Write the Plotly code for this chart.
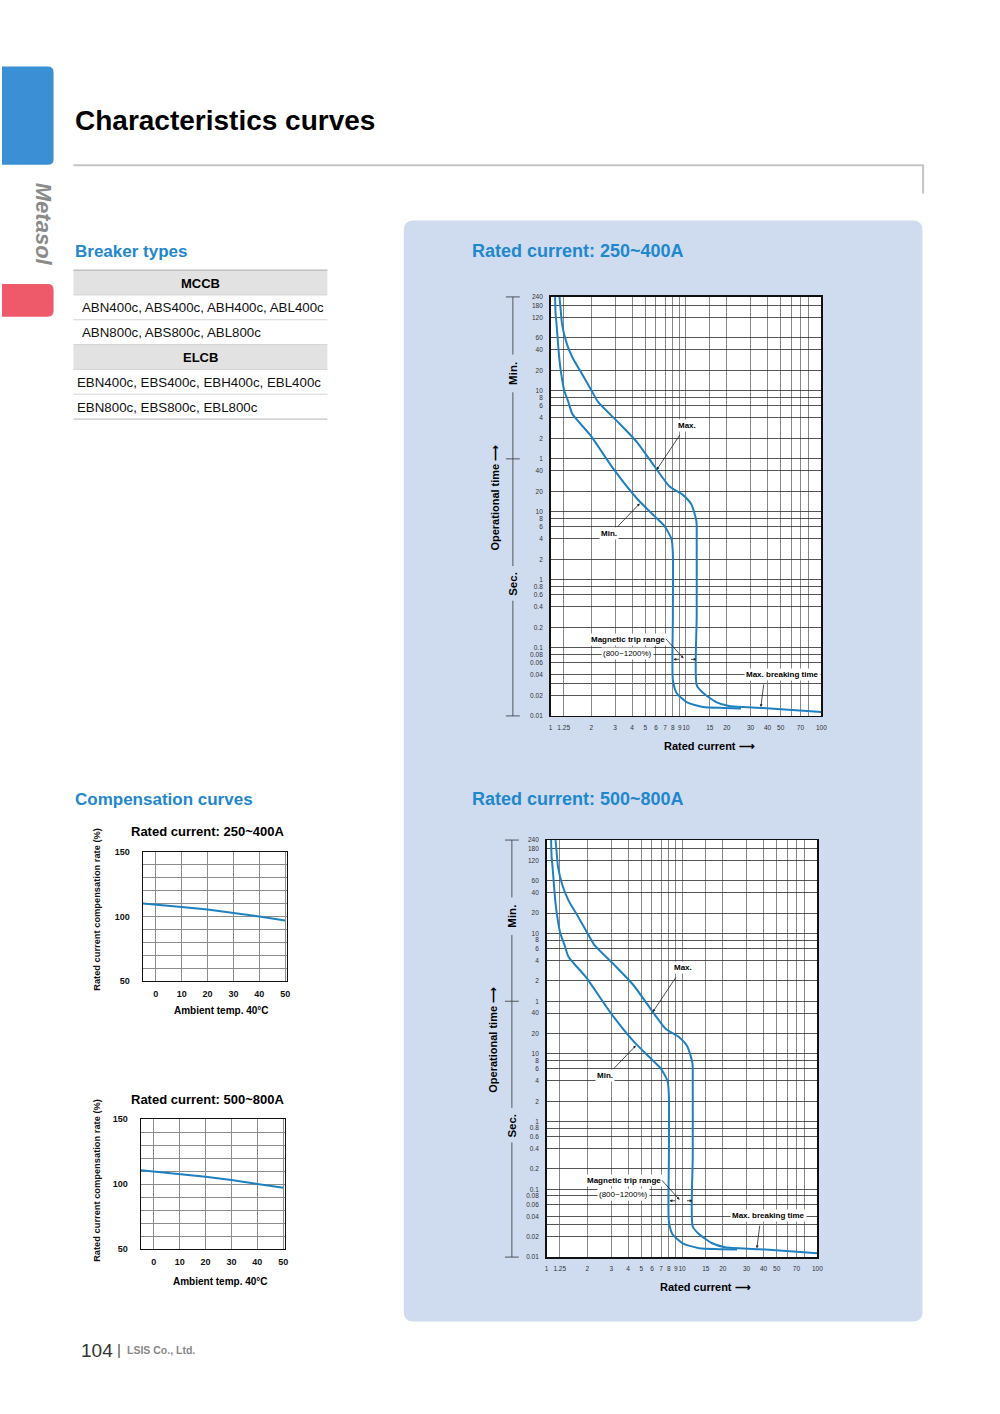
import math
import plotly.graph_objects as go

W, H = 1000, 1414
FONT = "Liberation Sans, Arial, Helvetica, sans-serif"
NARROW = "Liberation Sans Narrow, Liberation Sans, Arial, sans-serif"
BLUE_TXT = "#1f87cc"
CURVE = "#1f80c0"

# ---------------- data ----------------
# time-current characteristic (current in multiples of rating, time in seconds)
max_current = [1.164, 1.184, 1.214, 1.31, 1.45, 1.716, 2.0, 2.25, 3.15, 4.34, 5.88, 7.57, 9.43,
               10.97, 11.94, 12.0, 12.0, 12.0, 13.4, 16.7, 20.8, 37.0, 100.0]
max_time = [14400, 9930, 5800, 3070, 1850, 1047, 611, 408, 208, 106, 46, 23.5, 17.9,
            12.8, 7.24, 4.68, 0.3, 0.0283, 0.0217, 0.016, 0.014, 0.0131, 0.0114]
min_current = [1.08, 1.088, 1.106, 1.158, 1.194, 1.26, 1.355, 1.45, 1.96, 2.94, 4.34, 5.88, 6.96, 7.83,
               8.0, 8.0, 8.0, 8.52, 10.1, 13.4, 18.8, 25.5]
min_time = [14400, 8400, 5800, 1850, 1120, 611, 408, 273, 135, 41.6, 15.7, 8.57, 6.12, 3.95,
            2.39, 0.3, 0.0335, 0.0217, 0.016, 0.0135, 0.0131, 0.0129]

x_tick_vals = [1, 1.25, 2, 3, 4, 5, 6, 7, 8, 9, 10, 15, 20, 30, 40, 50, 70, 100]
x_tick_text = ["1", "1.25", "2", "3", "4", "5", "6", "7", "8", "9", "10", "15", "20", "30", "40", "50", "70", "100"]
x_minor_vals = [60, 80]
y_tick_vals = [0.01, 0.02, 0.04, 0.06, 0.08, 0.1, 0.2, 0.4, 0.6, 0.8, 1, 2, 4, 6, 8, 10, 20, 40,
               60, 120, 240, 360, 480, 600, 1200, 2400, 3600, 7200, 10800, 14400]
y_tick_text = ["0.01", "0.02", "0.04", "0.06", "0.08", "0.1", "0.2", "0.4", "0.6", "0.8", "1", "2",
               "4", "6", "8", "10", "20", "40", "1", "2", "4", "6", "8", "10", "20", "40", "60",
               "120", "180", "240"]
y_minor_vals = [0.03]

# compensation curves
temps = [-5, 0, 10, 20, 30, 40, 50]
comp_250_400 = [110.0, 109.3, 107.4, 105.4, 102.9, 100.0, 96.9]
comp_500_800 = [110.7, 109.7, 107.7, 105.6, 103.1, 100.3, 97.2]
comp_x_ticks = [0, 10, 20, 30, 40, 50]
comp_y_ticks = [50, 100, 150]
comp_y_minor = [60, 70, 80, 90, 110, 120, 130, 140]

table_rows = [("MCCB", True), ("ABN400c, ABS400c, ABH400c, ABL400c", False),
              ("ABN800c, ABS800c, ABL800c", False), ("ELCB", True),
              ("EBN400c, EBS400c, EBH400c, EBL400c", False), ("EBN800c, EBS800c, EBL800c", False)]

Y_LOG_MIN, Y_LOG_MAX = -2, math.log10(14400)


def px(x):
    return x / W


def py(y):
    return 1 - y / H


fig = go.Figure()
shapes = []
ann = []


def txt(x, y, s, size, color="#000", bold=False, italic=False, xanchor="center", yanchor="middle",
        angle=0, xref="paper", yref="paper", bg=None, family=FONT, pad=1):
    if xref == "paper":
        x = px(x)
    if yref == "paper":
        y = py(y)
    d = dict(x=x, y=y, xref=xref, yref=yref, text=s, showarrow=False, xanchor=xanchor,
             yanchor=yanchor, textangle=angle,
             font=dict(family=family, size=size, color=color,
                       weight="bold" if bold else "normal", style="italic" if italic else "normal"))
    if bg:
        d.update(bgcolor=bg, borderpad=pad)
    ann.append(d)


def rrect_path(x0, y0, x1, y1, r, corners=(1, 1, 1, 1)):
    rx, ry = r / W, r / H
    X0, X1 = px(x0), px(x1)
    Y0, Y1 = py(y0), py(y1)
    tl, tr, br, bl = corners
    p = f"M {X0 + rx * tl},{Y0} L {X1 - rx * tr},{Y0} "
    p += f"Q {X1},{Y0} {X1},{Y0 - ry * tr} " if tr else ""
    p += f"L {X1},{Y1 + ry * br} "
    p += f"Q {X1},{Y1} {X1 - rx * br},{Y1} " if br else ""
    p += f"L {X0 + rx * bl},{Y1} "
    p += f"Q {X0},{Y1} {X0},{Y1 + ry * bl} " if bl else ""
    p += f"L {X0},{Y0 - ry * tl} "
    p += f"Q {X0},{Y0} {X0 + rx * tl},{Y0} " if tl else ""
    return p + "Z"


# ---------------- page decoration ----------------
shapes.append(dict(type="path", path=rrect_path(0, 62, 52, 161, 6, (0, 1, 1, 0)), xref="paper", yref="paper",
                   fillcolor="#3a8fd5", line=dict(width=0), layer="below"))
shapes.append(dict(type="path", path=rrect_path(0, 281, 52, 314, 6, (0, 1, 1, 0)), xref="paper", yref="paper",
                   fillcolor="#ee5a6a", line=dict(width=0), layer="below"))
txt(42, 221, "Metasol", 22, color="#8a8a8a", bold=True, italic=True, angle=90)
txt(72, 116, "Characteristics curves", 28, bold=True, xanchor="left")
shapes.append(dict(type="line", xref="paper", yref="paper", x0=px(72), x1=px(929), y0=py(161.5), y1=py(161.5),
                   line=dict(color="#c4c4c4", width=2)))
shapes.append(dict(type="line", xref="paper", yref="paper", x0=px(928.5), x1=px(928.5), y0=py(161), y1=py(190),
                   line=dict(color="#c4c4c4", width=2)))
shapes.append(dict(type="path", path=rrect_path(405, 217, 928, 1326, 10), xref="paper", yref="paper",
                   fillcolor="#cfdcf0", line=dict(width=0), layer="below"))

# ---------------- breaker types table ----------------
txt(72, 248, "Breaker types", 17, color=BLUE_TXT, bold=True, xanchor="left")
top, rh = 267, 25
for i, (label, header) in enumerate(table_rows):
    y0 = top + i * rh
    if header:
        shapes.append(dict(type="rect", xref="paper", yref="paper", x0=px(72), x1=px(328), y0=py(y0), y1=py(y0 + rh),
                           fillcolor="#e2e2e2", line=dict(width=0), layer="below"))
        txt(200, y0 + rh / 2 + 0.5, label, 13, bold=True)
    else:
        xs = 79 if i < 3 else 74
        txt(xs, y0 + rh / 2 + 0.5, label, 13.3, color="#111", xanchor="left")
    shapes.append(dict(type="line", xref="paper", yref="paper", x0=px(72), x1=px(328), y0=py(y0), y1=py(y0),
                       line=dict(color="#b8b8b8" if i == 0 else "#d4d4d4", width=1.3 if i == 0 else 1)))
shapes.append(dict(type="line", xref="paper", yref="paper", x0=px(72), x1=px(328), y0=py(top + 6 * rh),
                   y1=py(top + 6 * rh), line=dict(color="#c4c4c4", width=1.3)))

# ---------------- main characteristic charts ----------------
main_charts = [
    dict(ax="", dom_x=(553, 826), dom_y=(294, 716), title="Rated current: 250~400A", title_y=248,
         dim_x=515, brk_x=1.714),
    dict(ax="2", dom_x=(549, 822), dom_y=(841, 1261), title="Rated current: 500~800A", title_y=800,
         dim_x=514, brk_x=1.641),
]

for c in main_charts:
    a = c["ax"]
    xr, yr = "x" + a, "y" + a
    for cx, cy in ((min_current, min_time), (max_current, max_time)):
        fig.add_trace(go.Scatter(x=cx, y=cy, mode="lines", xaxis=xr, yaxis=yr,
                                 line=dict(color=CURVE, width=2, shape="spline", smoothing=0.6),
                                 showlegend=False, hoverinfo="skip"))
    x0, x1 = c["dom_x"]
    y0, y1 = c["dom_y"]
    fig.layout["xaxis" + a] = dict(
        domain=[px(x0), px(x1)], anchor=yr, type="log", range=[0, 2],
        tickmode="array", tickvals=x_tick_vals, ticktext=x_tick_text, ticks="", tickangle=0,
        tickfont=dict(family=FONT, size=6.5, color="#333"), ticklabelstandoff=5,
        showgrid=True, gridcolor="#6a6a6a", gridwidth=0.8,
        minor=dict(tickmode="array", tickvals=x_minor_vals, showgrid=True, gridcolor="#6a6a6a", gridwidth=0.8),
        showline=True, linecolor="#111", linewidth=1.5, mirror=True, zeroline=False, fixedrange=True)
    fig.layout["yaxis" + a] = dict(
        domain=[py(y1), py(y0)], anchor=xr, type="log", range=[Y_LOG_MIN, Y_LOG_MAX],
        tickmode="array", tickvals=y_tick_vals, ticktext=y_tick_text, ticks="", tickangle=0,
        tickfont=dict(family=FONT, size=6.5, color="#333"), ticklabelstandoff=5,
        showgrid=True, gridcolor="#2a2a2a", gridwidth=0.8,
        minor=dict(tickmode="array", tickvals=y_minor_vals, showgrid=True, gridcolor="#2a2a2a", gridwidth=0.8),
        showline=True, linecolor="#111", linewidth=1.5, mirror=True, zeroline=False, fixedrange=True)
    shapes.append(dict(type="rect", xref="paper", yref="paper", x0=px(x0), x1=px(x1), y0=py(y1), y1=py(y0),
                       fillcolor="white", line=dict(width=0), layer="below"))
    txt(472, c["title_y"], c["title"], 18, color=BLUE_TXT, bold=True, xanchor="left")

    def ypix(L, y0=y0, y1=y1):
        return y1 - (L - Y_LOG_MIN) * (y1 - y0) / (Y_LOG_MAX - Y_LOG_MIN)

    dx = c["dim_x"]
    ytop, ymin, ybot = Y_LOG_MAX, math.log10(60), Y_LOG_MIN
    for (a0, a1) in [(ytop, 3.311), (2.757, ymin), (ymin, 0.203), (-0.307, ybot)]:
        shapes.append(dict(type="line", xref="paper", yref="paper", x0=px(dx), x1=px(dx),
                           y0=py(ypix(a0)), y1=py(ypix(a1)), line=dict(color="#333", width=0.8)))
    for yy in (ytop, ymin, ybot):
        shapes.append(dict(type="line", xref="paper", yref="paper", x0=px(dx - 7), x1=px(dx + 7),
                           y0=py(ypix(yy)), y1=py(ypix(yy)), line=dict(color="#333", width=0.8)))
    txt(dx, 3.04, "Min.", 11.5, bold=True, angle=-90, yref=yr)
    txt(dx, -0.06, "Sec.", 11.5, bold=True, angle=-90, yref=yr)
    txt(dx - 19, 1.21, "Operational time ⟶", 11, bold=True, angle=-90, yref=yr)
    txt(1.172, -0.071, "Rated current ⟶", 11, bold=True, xref=xr, yref=yr + " domain")
    txt(1.004, 2.276, "Max.", 8, bold=True, xref=xr, yref=yr, bg="white", family=NARROW)
    txt(0.432, 0.685, "Min.", 8, bold=True, xref=xr, yref=yr, bg="white", family=NARROW)
    txt(0.571, -0.876, "Magnetic trip range", 8, bold=True, xref=xr, yref=yr, bg="white", family=NARROW)
    txt(0.571, -1.081, "(800~1200%)", 8, xref=xr, yref=yr, bg="white", family=NARROW)
    txt(c["brk_x"], -1.387, "Max. breaking time", 8, bold=True, xref=xr, yref=yr, bg="white", family=NARROW)
    arrows = [(0.784, 1.619, 24, -36), (0.659, 1.123, -24, 25), (0.982, -1.154, -19, -21),
              (0.908, -1.168, 7, 0), (1.077, -1.168, -7, 0), (1.553, -1.869, 3, -24)]
    for (ax_, ay_, ox, oy) in arrows:
        ann.append(dict(x=ax_, y=ay_, xref=xr, yref=yr, text="", showarrow=True, ax=ox, ay=oy,
                        arrowhead=2, arrowsize=0.7, arrowwidth=0.8, arrowcolor="#222", standoff=0))

# ---------------- compensation charts ----------------
txt(72, 800, "Compensation curves", 17, color=BLUE_TXT, bold=True, xanchor="left")
comp_charts = [
    dict(ax="3", dom_x=(142, 287), dom_y=(853, 983), title="Rated current: 250~400A", title_y=832,
         data=comp_250_400, ytitle_y=911, xlab=(221, 1013)),
    dict(ax="4", dom_x=(140, 285), dom_y=(1122, 1253), title="Rated current: 500~800A", title_y=1102,
         data=comp_500_800, ytitle_y=1184, xlab=(220, 1286)),
]
for c in comp_charts:
    a = c["ax"]
    xr, yr = "x" + a, "y" + a
    fig.add_trace(go.Scatter(x=temps, y=c["data"], mode="lines", xaxis=xr, yaxis=yr,
                             line=dict(color=CURVE, width=2), showlegend=False, hoverinfo="skip"))
    x0, x1 = c["dom_x"]
    y0, y1 = c["dom_y"]
    fig.layout["xaxis" + a] = dict(
        domain=[px(x0), px(x1)], anchor=yr, range=[-5, 50.6], tickmode="array", tickvals=comp_x_ticks,
        ticks="", tickangle=0, tickfont=dict(family=FONT, size=9, color="#111", weight="bold"),
        ticklabelstandoff=4, showgrid=True, gridcolor="#8c8c8c", gridwidth=1,
        showline=True, linecolor="#111", linewidth=1.3, mirror=True, zeroline=False, fixedrange=True)
    fig.layout["yaxis" + a] = dict(
        domain=[py(y1), py(y0)], anchor=xr, range=[50, 150], tickmode="array", tickvals=comp_y_ticks,
        ticks="", tickfont=dict(family=FONT, size=9, color="#111", weight="bold"), ticklabelstandoff=10,
        showgrid=True, gridcolor="#8c8c8c", gridwidth=1,
        minor=dict(tickmode="array", tickvals=comp_y_minor, showgrid=True, gridcolor="#8c8c8c", gridwidth=1),
        showline=True, linecolor="#111", linewidth=1.3, mirror=True, zeroline=False, fixedrange=True)
    txt(207, c["title_y"], c["title"], 13, bold=True)
    txt(95, c["ytitle_y"], "Rated current compensation rate (%)", 9.3, color="#111", angle=-90, family=NARROW,
        bold=True)
    txt(c["xlab"][0], c["xlab"][1], "Ambient temp. 40°C", 10, bold=True, family=NARROW)

# ---------------- footer ----------------
txt(78, 1355, "104", 19, color="#333", xanchor="left")
txt(114, 1354, "|", 15, color="#555", xanchor="left")
txt(124, 1355, "LSIS Co., Ltd.", 10.5, color="#888", bold=True, xanchor="left")

fig.update_layout(width=W, height=H, autosize=False, margin=dict(l=0, r=0, t=0, b=0),
                  paper_bgcolor="white", plot_bgcolor="white", shapes=shapes, annotations=ann,
                  showlegend=False)
post = (
    "var gd=document.getElementById('{plot_id}');"
    "var de=document.documentElement, b=document.body;"
    "de.style.margin='0';de.style.padding='0';de.style.overflow='hidden';"
    "b.style.margin='0';b.style.padding='0';b.style.overflow='hidden';"
    "gd.style.position='absolute';gd.style.left='0px';gd.style.top='0px';"
)
fig.write_html("out.html", config={"displayModeBar": False, "staticPlot": True}, post_script=post)
